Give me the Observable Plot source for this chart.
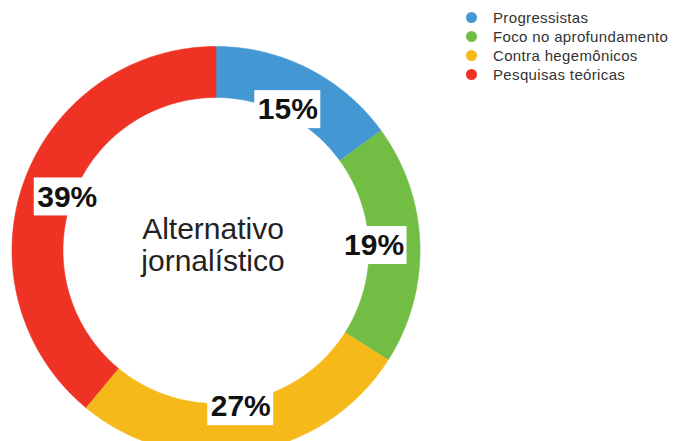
<!DOCTYPE html>
<html>
<head>
<meta charset="utf-8">
<script src="https://cdn.jsdelivr.net/npm/d3@7"></script>
<script src="https://cdn.jsdelivr.net/npm/@observablehq/plot@0.6"></script>
<style>
  html, body { margin: 0; padding: 0; background: #fff; overflow: hidden; }
  #wrap { position: relative; width: 682px; height: 441px; }
  #legend { position: absolute; left: 464px; top: 8px; font-family: "Liberation Sans", Arial, Helvetica, sans-serif; font-size: 15px; color: #333; letter-spacing: 0.35px; }
  .row { display: flex; align-items: center; height: 19px; white-space: nowrap; }
  .sw { width: 11px; height: 11px; border-radius: 50%; margin-right: 16px; margin-left: 2px; }
</style>
</head>
<body>
<div id="wrap"><div id="legend"></div></div>
<script>
const categories = ["Progressistas", "Foco no aprofundamento", "Contra hegemônicos", "Pesquisas teóricas"];
const values = [15, 19, 27, 39];
const labels = ["15%", "19%", "27%", "39%"];
const colors = ["#4398d3", "#72be44", "#f5ba1a", "#ee3224"];
const centerText = "Alternativo\njornalístico";

const innerR = 0.75;   // ring inner radius as share of outer
const labelR = 0.775;
const total = d3.sum(values);

// slice polygons (clockwise from top)
const slicePts = [];
const labelData = [];
let acc = 0;
categories.forEach((cat, i) => {
  const a0 = acc / total * 2 * Math.PI;
  acc += values[i];
  const a1 = acc / total * 2 * Math.PI;
  const n = Math.max(2, Math.ceil((a1 - a0) / (Math.PI / 360)));
  for (let k = 0; k <= n; k++) {
    const a = a0 + (a1 - a0) * k / n;
    slicePts.push({cat, x: Math.sin(a), y: Math.cos(a)});
  }
  for (let k = n; k >= 0; k--) {
    const a = a0 + (a1 - a0) * k / n;
    slicePts.push({cat, x: innerR * Math.sin(a), y: innerR * Math.cos(a)});
  }
  const am = (a0 + a1) / 2;
  labelData.push({cat, label: labels[i], x: labelR * Math.sin(am), y: labelR * Math.cos(am)});
});

const R = 204, cx = 215.5, cy = 250;
const hw = 33 / R, hh = 19 / R;

const chart = Plot.plot({
  width: 682,
  height: 441,
  margin: 0,
  x: {type: "linear", domain: [-1, 1], range: [cx - R, cx + R], axis: null},
  y: {type: "linear", domain: [-1, 1], range: [cy + R, cy - R], axis: null},
  color: {domain: categories, range: colors},
  style: {fontFamily: "'Liberation Sans', Arial, Helvetica, sans-serif", background: "white"},
  marks: [
    Plot.line(slicePts, {x: "x", y: "y", z: "cat", fill: "cat", stroke: "cat", strokeWidth: 0.6}),
    Plot.rect(labelData, {x1: d => d.x - hw, x2: d => d.x + hw, y1: d => d.y - hh, y2: d => d.y + hh, fill: "white"}),
    Plot.text(labelData, {x: "x", y: "y", text: "label", fontSize: 30, fontWeight: "bold", fill: "#111"}),
    Plot.text([centerText], {x: 0, y: 0, dx: -3, dy: -6, text: d => d, fontSize: 30, lineHeight: 1.07, fill: "#222"})
  ]
});
document.getElementById("wrap").prepend(chart);

const legend = document.getElementById("legend");
categories.forEach((c, i) => {
  const row = document.createElement("div");
  row.className = "row";
  const sw = document.createElement("span");
  sw.className = "sw";
  sw.style.background = colors[i];
  const t = document.createElement("span");
  t.textContent = c;
  row.append(sw, t);
  legend.append(row);
});
</script>
</body>
</html>
